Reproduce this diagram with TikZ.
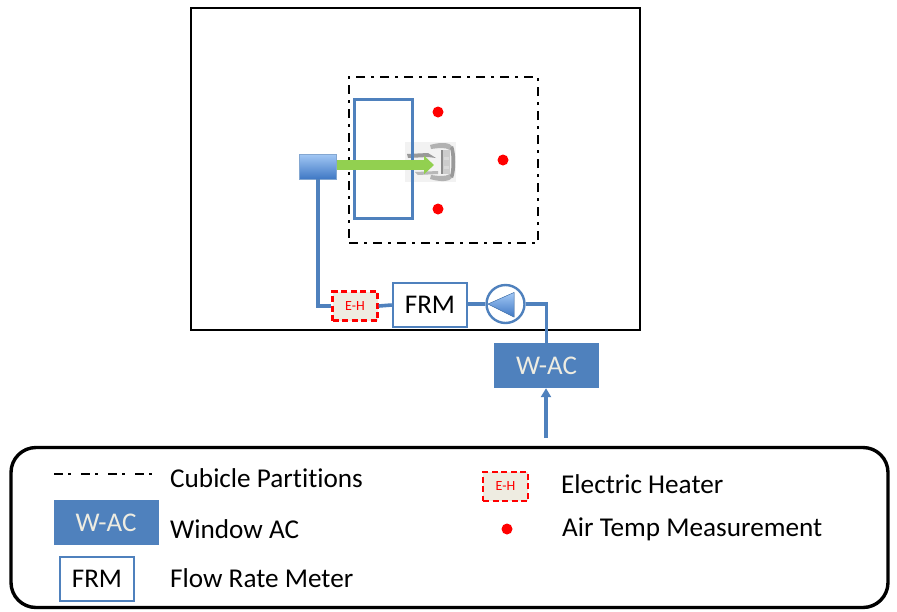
\documentclass[tikz,border=0pt]{standalone}
\usepackage{fontspec}
\setmainfont{Carlito}[Ligatures=NoCommon]
\usetikzlibrary{arrows.meta,shadows,calc}
\definecolor{pipeblue}{HTML}{4F81BD}
\definecolor{ehfill}{HTML}{EEECE1}
\definecolor{ehred}{HTML}{FF0000}
\definecolor{arrowgreen}{HTML}{92D050}
\definecolor{difftop}{HTML}{A3C8F5}
\definecolor{diffbot}{HTML}{3F78C4}
\tikzset{
  pipe/.style={draw=pipeblue,line width=3.6pt},
  wac/.style={fill=pipeblue,draw=none,minimum width=105pt,minimum height=45pt,inner sep=0pt,text=ehfill,font=\fontsize{27}{27}\selectfont},
  frm/.style={draw=pipeblue,line width=2.4pt,fill=white,minimum width=74pt,minimum height=44pt,inner sep=0pt,text=black,font=\fontsize{27}{27}\selectfont},
  eh/.style={draw=ehred,dash pattern=on 6pt off 3.5pt,line width=2.4pt,fill=ehfill,minimum width=45pt,minimum height=29pt,inner sep=0pt,text=ehred,font=\fontsize{14}{14}\selectfont},
  tdot/.style={circle,fill=red,draw=none,minimum size=11pt,inner sep=0pt},
  legtext/.style={anchor=west,inner sep=0pt,text=black,font=\fontsize{27.2}{27.2}\selectfont},
  partition/.style={draw=black,dash pattern=on 9pt off 6pt on 3pt off 6pt},
}
\begin{document}
\begin{tikzpicture}[x=1pt,y=-1pt]
\useasboundingbox (0,0) rectangle (897,611);
\fill[white] (0,0) rectangle (897,611);
% room
\node[draw=black,line width=2.4pt,minimum width=449pt,minimum height=322pt,inner sep=0pt] (room) at (415.5,169) {};
% cubicle
\node[partition,line width=2.6pt,minimum width=189pt,minimum height=166pt,inner sep=0pt] (cubicle) at (443.5,160) {};
% fan
\fill[black!5] (405,142) rectangle (456,182);
\fill[black!30] (430,145) .. controls (440,142) and (450,142) .. (453,147) -- (450,150) .. controls (445,147) and (438,148) .. (431,149) -- cycle;
\fill[black!30] (430,179) .. controls (440,182) and (450,182) .. (453,177) -- (450,174) .. controls (445,177) and (438,176) .. (431,175) -- cycle;
\fill[black!40] (453,146) .. controls (456,152) and (456,172) .. (453,178) -- (450,176) .. controls (452,170) and (452,154) .. (450,148) -- cycle;
\fill[black!20] (441,150) rectangle (450,174);
\fill[black!45] (441,150) rectangle (443,174);
\fill[white!85!black] (444,157) rectangle (449,160);
\fill[white!85!black] (444,166) rectangle (449,169);
\fill[black!40] (407,154) -- (428,153) -- (436,158) -- (428,157) -- (408,158) -- cycle;
\fill[black!28] (415,172) -- (438,171) -- (438,174) -- (418,175) -- cycle;
% window unit
\node[draw=pipeblue,line width=3.4pt,minimum width=58pt,minimum height=119pt,inner sep=0pt] (window) at (383.5,159) {};
% diffuser
\node[top color=difftop,bottom color=diffbot,draw=pipeblue!70!white,line width=0.8pt,minimum width=37pt,minimum height=25pt,inner sep=0pt] (diff) at (318,166.5) {};
% green arrow
\coordinate (tip) at (434,165);
\draw[arrowgreen,line width=9.5pt,-{Triangle[length=10pt,width=18pt]}] (diff.east |- tip) -- (tip);
% dots
\node[tdot] (d1) at (438,112) {};
\node[tdot] (d2) at (503,160) {};
\node[tdot] (d3) at (438,209) {};
% flow path
\node[eh] (heater) at (355,306) {E-H};
\node[frm] (meter) at (430,305) {FRM};
\node[circle,draw=pipeblue,line width=2.4pt,fill=white,minimum size=38pt,inner sep=0pt] (pump) at (505.5,304) {};
\fill[top color=difftop,bottom color=diffbot,draw=pipeblue,line width=0.5pt] (488,304) -- (514,292.5) -- (514,317) -- cycle;
\node[wac] (unit) at (546.5,365.5) {W-AC};
\coordinate (inlet) at (546,438);
\draw[pipe] (diff.south) |- (heater.west);
\draw[pipe] (heater.east) -- (meter.west);
\draw[pipe] (meter.east |- pump.west) -- (pump.west);
\draw[pipe] (pump.east) -| (unit.north);
\draw[draw=pipeblue,line width=3.4pt,-{Triangle[length=9pt,width=10pt]}] (inlet) -- (inlet |- unit.south);
% legend
\node[draw=black,line width=3.4pt,rounded corners=25pt,fill=white,minimum width=877pt,minimum height=160pt,inner sep=0pt,
  drop shadow={shadow xshift=0.5pt,shadow yshift=-1.5pt,opacity=0.35}] (legend) at (449.5,527.5) {};
\coordinate (ls) at (54,474);
\coordinate (le) at (158,474);
\draw[draw=black,dash pattern=on 9pt off 5pt on 3pt off 10pt,line width=2pt] (ls) -- (le);
\node[legtext] (t1) at (170,478) {Cubicle Partitions};
\node[wac] (lwac) at (106,522.5) {W-AC};
\node[legtext] (t2) at (170,529.5) {Window AC};
\node[frm,line width=2pt] (lfrm) at (97,578.5) {FRM};
\node[legtext] (t3) at (170,578.5) {Flow Rate Meter};
\node[eh] (leh) at (505.5,486.5) {E-H};
\node[legtext] (t4) at (561,484) {Electric Heater};
\node[tdot] (ldot) at (507,529) {};
\node[legtext] (t5) at (562,529) {Air Temp Measurement};
\end{tikzpicture}
\end{document}
